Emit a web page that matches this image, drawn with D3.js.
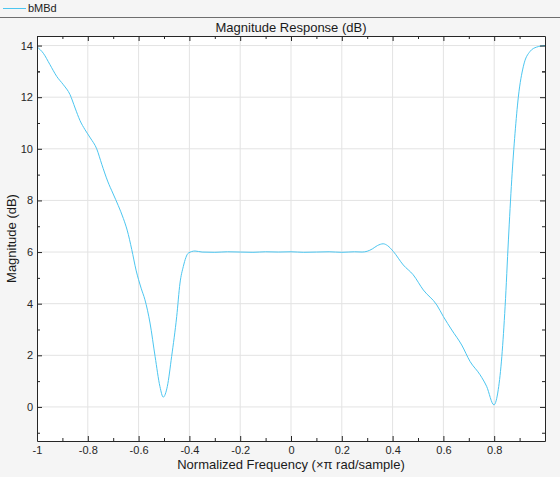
<!DOCTYPE html>
<html>
<head>
<meta charset="utf-8">
<script src="https://cdn.jsdelivr.net/npm/d3@7"></script>
<style>
  body { margin: 0; background: #f5f5f5; }
  svg { display: block; font-family: "Liberation Sans", Arial, sans-serif; }
</style>
</head>
<body>
<script>
// magnitude response samples
const freq = [-1, -0.975, -0.949, -0.922, -0.896, -0.87, -0.85, -0.831, -0.811, -0.79, -0.765, -0.745,
  -0.722, -0.7, -0.68, -0.66, -0.645, -0.627, -0.61, -0.59, -0.575, -0.555, -0.535, -0.516, -0.503,
  -0.487, -0.47, -0.45, -0.437, -0.424, -0.404, -0.378, -0.35, -0.3, -0.25, -0.2, -0.15, -0.1, -0.05,
  0, 0.05, 0.1, 0.15, 0.2, 0.25, 0.28, 0.3, 0.32, 0.34, 0.363, 0.38, 0.403, 0.442, 0.481, 0.521,
  0.574, 0.6, 0.633, 0.672, 0.705, 0.744, 0.77, 0.799, 0.816, 0.83, 0.843, 0.856, 0.869, 0.882,
  0.895, 0.915, 0.941, 0.967, 1];
const magDb = [13.95, 13.7, 13.26, 12.8, 12.48, 12.1, 11.58, 11.1, 10.74, 10.42, 10.0, 9.4,
  8.75, 8.25, 7.8, 7.3, 6.85, 6.1, 5.3, 4.6, 4.15, 3.25, 1.95, 0.79, 0.38,
  0.79, 1.95, 3.5, 4.8, 5.44, 5.96, 6.04, 6.0, 5.99, 6.01, 6.0, 5.99, 6.01, 6.0,
  6.01, 5.99, 6.0, 6.01, 5.99, 6.01, 6.0, 6.03, 6.12, 6.25, 6.32, 6.25, 6.02, 5.5, 5.12, 4.53,
  3.95, 3.5, 2.98, 2.4, 1.76, 1.25, 0.8, 0.08, 0.67, 1.95, 3.9, 6.47, 8.8, 10.6,
  12.0, 13.2, 13.77, 13.94, 14.0];
const xTicks = [-1, -0.8, -0.6, -0.4, -0.2, 0, 0.2, 0.4, 0.6, 0.8];
const yTicks = [0, 2, 4, 6, 8, 10, 12, 14];
const seriesName = "bMBd";

const W = 560, H = 477;
const margin = {top: 36, right: 15, bottom: 36, left: 37};
const pw = W - margin.left - margin.right, ph = H - margin.top - margin.bottom;

const svg = d3.select("body").append("svg").attr("width", W).attr("height", H);

// legend strip
svg.append("line").attr("x1", 3).attr("x2", 26).attr("y1", 8.5).attr("y2", 8.5)
  .attr("stroke", "#4cc6f0").attr("stroke-width", 1);
svg.append("text").attr("x", 28).attr("y", 12).attr("font-size", 11).attr("fill", "#222").text(seriesName);
svg.append("line").attr("x1", 0).attr("x2", W).attr("y1", 17.5).attr("y2", 17.5)
  .attr("stroke", "#6e6e6e").attr("stroke-width", 1);

const x = d3.scaleLinear().domain([-1, 1]).range([0, pw]);
const y = d3.scaleLinear().domain([-1.32, 14.37]).range([ph, 0]);

const g = svg.append("g").attr("transform", `translate(${margin.left},${margin.top})`);
g.append("rect").attr("width", pw).attr("height", ph).attr("fill", "#fff");

// grid
g.selectAll(".gx").data(xTicks.slice(1)).enter().append("line")
  .attr("x1", d => x(d)).attr("x2", d => x(d)).attr("y1", 0).attr("y2", ph)
  .attr("stroke", "#e3e3e3");
g.selectAll(".gy").data(yTicks).enter().append("line")
  .attr("x1", 0).attr("x2", pw).attr("y1", d => y(d)).attr("y2", d => y(d))
  .attr("stroke", "#e3e3e3");

// curve
const line = d3.line().x((d, i) => x(freq[i])).y(d => y(d)).curve(d3.curveMonotoneX);
g.append("path").datum(magDb).attr("fill", "none").attr("stroke", "#4cc6f0")
  .attr("stroke-width", 1).attr("d", line);

// axes, ticks inward on all sides
const xMinor = d3.range(-0.9, 1, 0.2);
const yMinor = d3.range(-1, 14, 2);
function styleAxis(sel) {
  sel.select(".domain").attr("stroke", "#262626");
  sel.selectAll(".tick line").attr("stroke", "#262626");
  sel.selectAll("text").attr("fill", "#262626").attr("font-size", 11)
    .attr("font-family", "Liberation Sans, Arial, sans-serif");
}
function minor(sel) {
  sel.select(".domain").remove();
  sel.selectAll("line").attr("stroke", "#262626");
}
const axBottom = g.append("g").attr("transform", `translate(0,${ph})`)
  .call(d3.axisBottom(x).tickValues(xTicks).tickFormat(d => String(d)).tickSizeInner(-5).tickSizeOuter(0).tickPadding(5));
styleAxis(axBottom);
g.append("g").attr("transform", `translate(0,${ph})`)
  .call(d3.axisBottom(x).tickValues(xMinor).tickFormat("").tickSizeInner(-3).tickSizeOuter(0))
  .call(minor);
const axTop = g.append("g")
  .call(d3.axisTop(x).tickValues(xTicks).tickFormat("").tickSizeInner(-5).tickSizeOuter(0));
styleAxis(axTop);
g.append("g")
  .call(d3.axisTop(x).tickValues(xMinor).tickFormat("").tickSizeInner(-3).tickSizeOuter(0))
  .call(minor);

const yMinorAll = yMinor.concat([13]);
const axLeft = g.append("g")
  .call(d3.axisLeft(y).tickValues(yTicks).tickFormat(d => String(d)).tickSizeInner(-5).tickSizeOuter(0).tickPadding(4));
styleAxis(axLeft);
g.append("g")
  .call(d3.axisLeft(y).tickValues(yMinorAll).tickFormat("").tickSizeInner(-3).tickSizeOuter(0))
  .call(minor);
const axRight = g.append("g").attr("transform", `translate(${pw},0)`)
  .call(d3.axisRight(y).tickValues(yTicks).tickFormat("").tickSizeInner(-5).tickSizeOuter(0));
styleAxis(axRight);
g.append("g").attr("transform", `translate(${pw},0)`)
  .call(d3.axisRight(y).tickValues(yMinorAll).tickFormat("").tickSizeInner(-3).tickSizeOuter(0))
  .call(minor);

// labels
svg.append("text").attr("x", margin.left + pw / 2).attr("y", 32).attr("text-anchor", "middle")
  .attr("font-size", 13).attr("fill", "#1a1a1a").text("Magnitude Response (dB)");
svg.append("text").attr("x", margin.left + pw / 2).attr("y", 469).attr("text-anchor", "middle")
  .attr("font-size", 13).attr("fill", "#1a1a1a").text("Normalized Frequency (\u00d7\u03c0 rad/sample)");
svg.append("text").attr("transform", `translate(16,${margin.top + ph / 2}) rotate(-90)`)
  .attr("text-anchor", "middle").attr("font-size", 13).attr("fill", "#1a1a1a").text("Magnitude (dB)");
</script>
</body>
</html>
